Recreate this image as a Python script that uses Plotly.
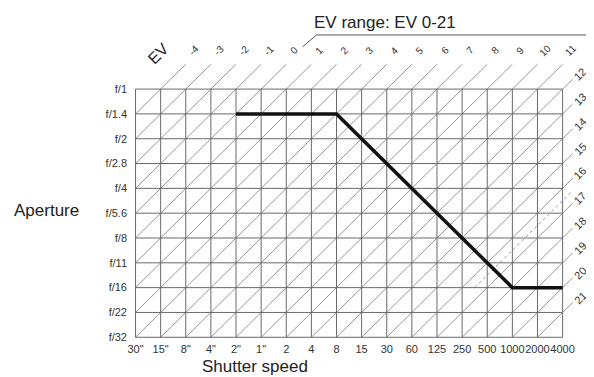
import plotly.graph_objects as go

# columns / rows of the exposure table
shutter_speeds = ['30"', '15"', '8"', '4"', '2"', '1"', '2', '4', '8', '15', '30',
                  '60', '125', '250', '500', '1000', '2000', '4000']
apertures = ['f/1', 'f/1.4', 'f/2', 'f/2.8', 'f/4', 'f/5.6', 'f/8', 'f/11',
             'f/16', 'f/22', 'f/32']

# EV values labelled along the top and along the right edge
ev_top = [-4, -3, -2, -1, 0, 1, 2, 3, 4, 5, 6, 7, 8, 9, 10, 11]
ev_right = [12, 13, 14, 15, 16, 17, 18, 19, 20, 21]
ev_dotted = 16.5

# program line (shutter speed, aperture)
program_shutter = ['2"', '8', '1000', '4000']
program_aperture = ['f/1.4', 'f/1.4', 'f/16', 'f/16']

EV_OFFSET = shutter_speeds.index('1"')   # 1" at f/1 = EV 0
NC = len(shutter_speeds) - 1
NR = len(apertures) - 1
FONT = "Liberation Sans, Arial, sans-serif"
NARROW = "Liberation Sans Narrow, Arial Narrow, Liberation Sans, sans-serif"


def ev_line(ev, extend=True):
    s = ev + EV_OFFSET
    r0 = min(NR, s)
    c0 = s - r0
    c1 = min(NC, s)
    r1 = s - c1
    xs, ys = [c0, c1], [r0, r1]
    if extend:
        if r1 == 0 and c1 < NC:
            xs.append(c1 + 1); ys.append(-1)
        else:
            xs.append(c1 + 0.4); ys.append(r1 - 0.4)
    return xs, ys


fig = go.Figure()

# diagonal EV lines
dx, dy = [], []
for ev in ev_top + ev_right:
    xs, ys = ev_line(ev)
    dx += xs + [None]
    dy += ys + [None]
fig.add_trace(go.Scatter(x=dx, y=dy, mode='lines',
                         line=dict(color='#959595', width=1), hoverinfo='skip'))

# dotted intermediate line
xs, ys = ev_line(ev_dotted)
fig.add_trace(go.Scatter(x=[xs[1] - 3.5] + xs[1:], y=[ys[1] + 3.5] + ys[1:], mode='lines',
                         line=dict(color='#999999', width=1, dash='dot'), hoverinfo='skip'))

# grid
gx, gy = [], []
for r in range(NR + 1):
    gx += [0, NC, None]
    gy += [r, r, None]
for c in range(NC + 1):
    gx += [c, c, None]
    gy += [0, NR, None]
fig.add_trace(go.Scatter(x=gx, y=gy, mode='lines',
                         line=dict(color='#6a6a6a', width=1), hoverinfo='skip'))

# program line
fig.add_trace(go.Scatter(x=[shutter_speeds.index(s) for s in program_shutter],
                         y=[apertures.index(a) for a in program_aperture],
                         mode='lines', line=dict(color='#111111', width=3.5)))

# "EV range" bracket
fig.add_trace(go.Scatter(x=[6.65, 7.2, 18.3], y=[-1.7, -2.18, -2.18], mode='lines',
                         line=dict(color='#555555', width=1), hoverinfo='skip'))

annotations = []
for ev in ev_top:
    c = ev + EV_OFFSET
    annotations.append(dict(x=c + 1.3, y=-1.57, text=str(ev), showarrow=False,
                            textangle=-45, font=dict(size=10, color='#333333', family=FONT)))
for ev in ev_right:
    r = ev + EV_OFFSET - NC
    annotations.append(dict(x=17.7, y=r - 0.6, text=str(ev), showarrow=False,
                            textangle=-45, font=dict(size=11, color='#333333', family=FONT)))
annotations += [
    dict(x=0.9, y=-1.45, text='EV', showarrow=False, textangle=-45,
         font=dict(size=16, color='#222222', family=FONT)),
    dict(xref='paper', yref='paper', x=0.551, y=1.032, text='EV range: EV 0-21',
         xanchor='center', yanchor='middle',
         showarrow=False, font=dict(size=17, color='#222222', family=FONT)),
    dict(xref='paper', yref='paper', x=-0.174, y=0.421, text='Aperture',
         xanchor='center', yanchor='middle',
         showarrow=False, font=dict(size=17, color='#222222', family=FONT)),
    dict(xref='paper', yref='paper', x=0.2725, y=-0.084, text='Shutter speed',
         xanchor='center', yanchor='middle',
         showarrow=False, font=dict(size=17, color='#222222', family=FONT)),
]

# the page body adds an 8px margin, so the figure is 8px smaller each way
fig.update_layout(
    width=586, height=369,
    margin=dict(l=120, r=0, t=24, b=36),
    paper_bgcolor='white', plot_bgcolor='white',
    showlegend=False,
    annotations=annotations,
    xaxis=dict(range=[-0.3, 18.25], tickvals=list(range(NC + 1)), ticktext=shutter_speeds,
               tickangle=0, showgrid=False, zeroline=False, showline=False, ticks='',
               tickfont=dict(size=11, color='#333333', family=NARROW)),
    yaxis=dict(range=[10.15, -2.3], tickvals=list(range(NR + 1)), ticktext=apertures,
               showgrid=False, zeroline=False, showline=False, ticks='',
               tickfont=dict(size=11, color='#333333', family=NARROW)),
)

fig.write_html("out.html")
